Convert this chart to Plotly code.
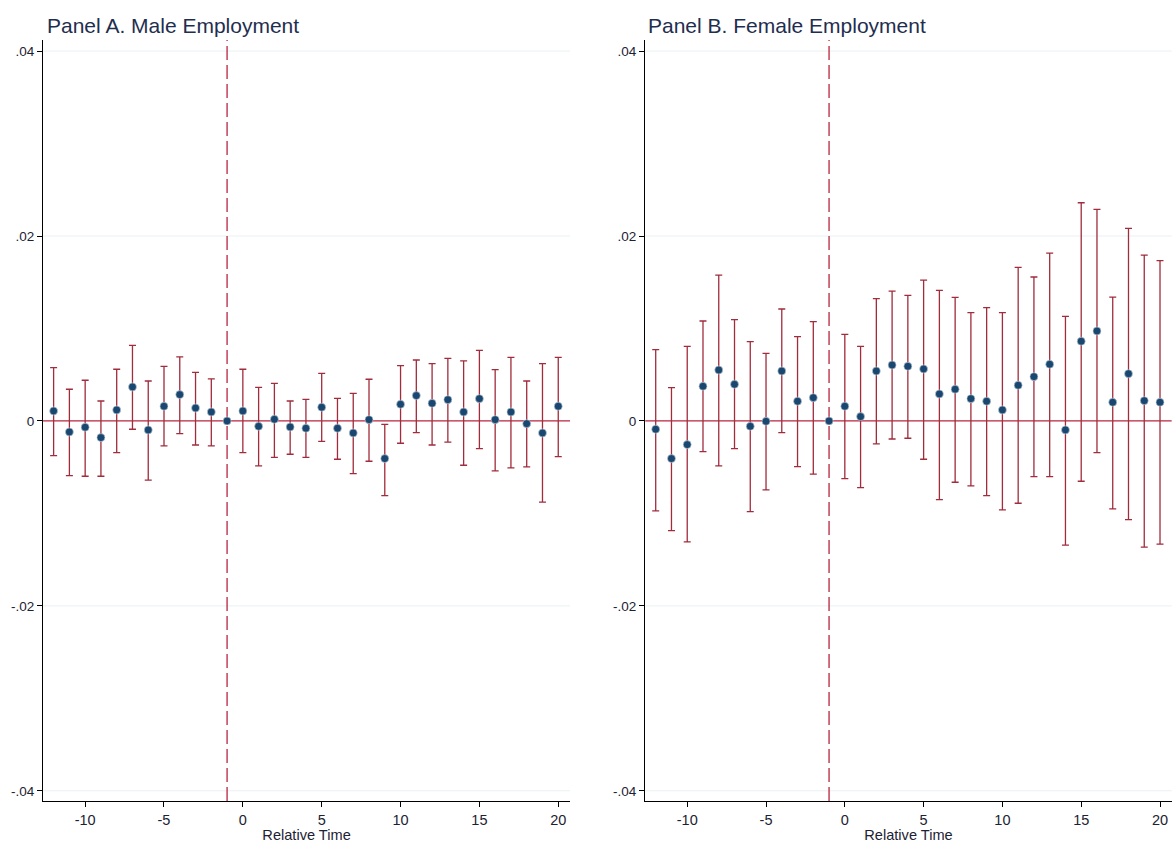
import plotly.graph_objects as go
from plotly.subplots import make_subplots

# Event time relative to treatment (t = -1 is the omitted reference period)
rel_time = list(range(-12, 21))

# Panel A: male employment, point estimates and 95% CI bounds
male_est = [0.00108, -0.00119, -0.00068, -0.00180, 0.00119, 0.00368, -0.00097, 0.00159,
            0.00285, 0.00140, 0.00097, 0.0, 0.00108, -0.00058, 0.00018, -0.00065,
            -0.00079, 0.00148, -0.00079, -0.00130, 0.00014, -0.00407, 0.00180, 0.00274,
            0.00191, 0.00230, 0.00097, 0.00241, 0.00014, 0.00097, -0.00029, -0.00130, 0.00159]
male_hi = [0.00576, 0.00343, 0.00440, 0.00216, 0.00559, 0.00818, 0.00432, 0.00591,
           0.00692, 0.00526, 0.00454, None, 0.00559, 0.00364, 0.00407, 0.00216,
           0.00234, 0.00515, 0.00245, 0.00299, 0.00451, -0.00036, 0.00598, 0.00659,
           0.00620, 0.00677, 0.00649, 0.00764, 0.00555, 0.00688, 0.00432, 0.00620, 0.00688]
male_lo = [-0.00375, -0.00591, -0.00598, -0.00598, -0.00342, -0.00090, -0.00641, -0.00270,
           -0.00137, -0.00260, -0.00270, None, -0.00342, -0.00486, -0.00393, -0.00360,
           -0.00393, -0.00220, -0.00414, -0.00570, -0.00436, -0.00807, -0.00241, -0.00126,
           -0.00260, -0.00230, -0.00479, -0.00299, -0.00540, -0.00508, -0.00497, -0.00879, -0.00386]

# Panel B: female employment
female_est = [-0.00090, -0.00407, -0.00256, 0.00375, 0.00551, 0.00396, -0.00058, -0.00004,
              0.00540, 0.00213, 0.00252, 0.0, 0.00159, 0.00047, 0.00540, 0.00605,
              0.00591, 0.00562, 0.00292, 0.00343, 0.00241, 0.00213, 0.00119, 0.00386,
              0.00479, 0.00613, -0.00097, 0.00862, 0.00973, 0.00202, 0.00511, 0.00219, 0.00202]
female_hi = [0.00771, 0.00360, 0.00807, 0.01081, 0.01578, 0.01095, 0.00858, 0.00731,
             0.01211, 0.00912, 0.01074, None, 0.00937, 0.00807, 0.01322, 0.01405,
             0.01359, 0.01524, 0.01413, 0.01337, 0.01171, 0.01225, 0.01171, 0.01661,
             0.01557, 0.01816, 0.01132, 0.02360, 0.02288, 0.01340, 0.02083, 0.01794, 0.01733]
female_lo = [-0.00973, -0.01186, -0.01308, -0.00332, -0.00486, -0.00299, -0.00980, -0.00746,
             -0.00126, -0.00494, -0.00576, None, -0.00623, -0.00721, -0.00249, -0.00195,
             -0.00187, -0.00414, -0.00851, -0.00663, -0.00703, -0.00807, -0.00962, -0.00890,
             -0.00602, -0.00602, -0.01344, -0.00652, -0.00342, -0.00951, -0.01067, -0.01365, -0.01333]

panel_titles = ["Panel A. Male Employment", "Panel B. Female Employment"]
y_tickvals = [-0.04, -0.02, 0, 0.02, 0.04]
y_ticktext = ["-.04", "-.02", "0", ".02", ".04"]
x_tickvals = [-10, -5, 0, 5, 10, 15, 20]
x_ticktext = ["-10", "-5", "0", "5", "10", "15", "20"]
event_period = -1

X_RANGE = [-12.67, 20.75]
Y_RANGE = [-0.0411, 0.0412]

NAVY = "#1a476f"
CAP_RED = "#a02c3c"
LINE_RED = "#b8243f"
GRID = "#e9f1f2"
FONT = "Liberation Sans, Arial, sans-serif"
TEXT = "#1c2233"

fig = make_subplots(rows=1, cols=2)

panels = [(male_est, male_lo, male_hi), (female_est, female_lo, female_hi)]
for col, (est, lo, hi) in enumerate(panels, start=1):
    xr = "x" if col == 1 else "x2"
    yr = "y" if col == 1 else "y2"
    # light horizontal grid at the labelled y ticks (the zero line replaces the one at 0)
    for yv in y_tickvals:
        if yv != 0:
            fig.add_shape(type="line", xref=xr, yref=yr, x0=X_RANGE[0], x1=X_RANGE[1],
                          y0=yv, y1=yv, line=dict(color=GRID, width=1), layer="below")
    # reference lines: zero effect and the last pre-treatment period
    fig.add_shape(type="line", xref=xr, yref=yr, x0=X_RANGE[0], x1=X_RANGE[1],
                  y0=0, y1=0, line=dict(color=LINE_RED, width=1.3), layer="below")
    fig.add_shape(type="line", xref=xr, yref=yr, x0=event_period, x1=event_period,
                  y0=Y_RANGE[0], y1=Y_RANGE[1],
                  line=dict(color=LINE_RED, width=1.3, dash="14px,5px"), layer="below")

    t_ci = [t for t, l in zip(rel_time, lo) if l is not None]
    e_ci = [e for e, l in zip(est, lo) if l is not None]
    up = [h - e for e, h in zip(est, hi) if h is not None]
    dn = [e - l for e, l in zip(est, lo) if l is not None]
    fig.add_trace(go.Scatter(
        x=t_ci, y=e_ci, mode="markers",
        marker=dict(color=NAVY, size=8, line=dict(color="#c9d6e3", width=0.6)),
        error_y=dict(type="data", symmetric=False, array=up, arrayminus=dn,
                     color=CAP_RED, thickness=1.3, width=3.5),
        showlegend=False, hoverinfo="skip"), row=1, col=col)
    t_ref = [t for t, l in zip(rel_time, lo) if l is None]
    e_ref = [e for e, l in zip(est, lo) if l is None]
    fig.add_trace(go.Scatter(
        x=t_ref, y=e_ref, mode="markers",
        marker=dict(color=NAVY, size=8, line=dict(color="#c9d6e3", width=0.6)),
        showlegend=False, hoverinfo="skip"), row=1, col=col)

axis_common = dict(showline=True, linecolor="black", linewidth=1.3, mirror=False,
                   ticks="outside", ticklen=5, tickcolor="black", tickwidth=1.2)

fig.update_xaxes(range=X_RANGE, tickvals=x_tickvals, ticktext=x_ticktext,
                 showgrid=False, zeroline=False,
                 tickfont=dict(family=FONT, size=14.5, color=TEXT),
                 title=dict(text="Relative Time", font=dict(family=FONT, size=14.6, color=TEXT),
                            standoff=0),
                 **axis_common)
fig.update_yaxes(range=Y_RANGE, tickvals=y_tickvals, ticktext=y_ticktext,
                 showgrid=False, zeroline=False,
                 tickfont=dict(family=FONT, size=13.5, color=TEXT),
                 **axis_common)

fig.update_layout(
    width=1173, height=844,
    margin=dict(l=0, r=0, t=0, b=0),
    paper_bgcolor="white", plot_bgcolor="white",
    xaxis=dict(domain=[0.0367, 0.486]),
    xaxis2=dict(domain=[0.550, 0.999]),
    yaxis=dict(domain=[0.051, 0.9526]),
    yaxis2=dict(domain=[0.051, 0.9526]),
)
for i, txt in enumerate(panel_titles):
    fig.add_annotation(text=txt, x=(45 if i == 0 else 646) / 1173, y=1 - 25 / 844,
                       xref="paper", yref="paper", xanchor="left", yanchor="middle",
                       showarrow=False, font=dict(family=FONT, size=21, color="#1f2e4f"))

fig.write_html("out.html")
